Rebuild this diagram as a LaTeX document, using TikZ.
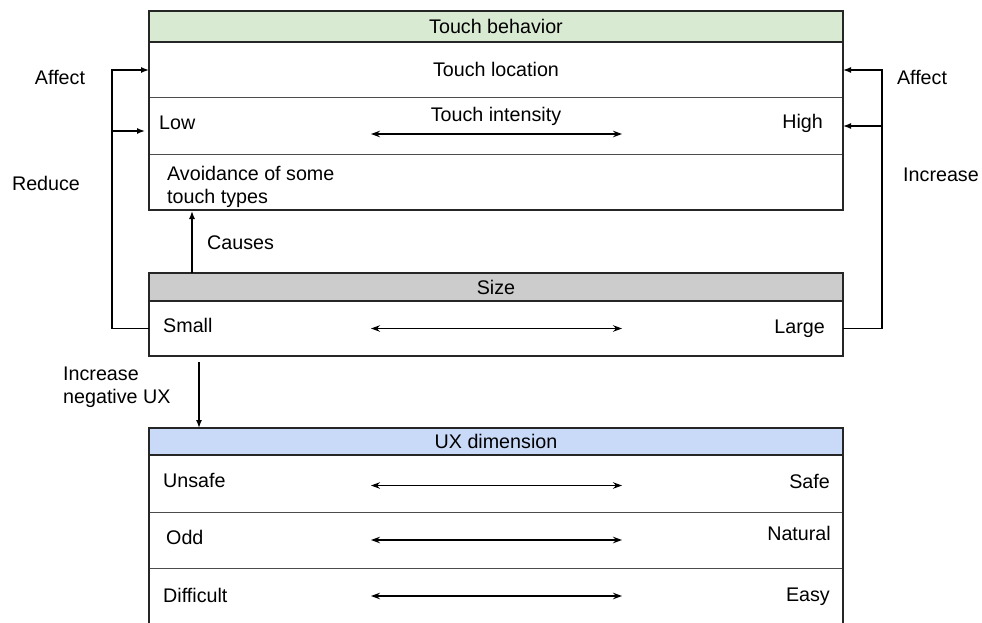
\documentclass[tikz,border=0pt]{standalone}
\usepackage{fontspec}
\setmainfont{Liberation Sans}
\usetikzlibrary{arrows.meta,calc}
\definecolor{hdrgreen}{HTML}{D9EAD3}
\definecolor{hdrgray}{HTML}{CCCCCC}
\definecolor{hdrblue}{HTML}{C9DAF8}
\tikzset{
  rowbox/.style={draw=black!70, line width=1pt, minimum width=694pt, inner sep=0pt, outer sep=0pt, anchor=north west},
  hdrbox/.style={rowbox, draw=black!85, line width=1.6pt},
  frame/.style={draw=black!85, line width=1.6pt},
  lbl/.style={inner sep=0pt, font=\fontsize{19.7}{23}\selectfont},
  conn/.style={draw=black, line width=1.4pt},
  tip/.style={-{Latex[length=8pt,width=6pt]}},
  dbl/.style={draw=black, line width=1.2pt, {Stealth[length=9pt,width=6.5pt]}-{Stealth[length=9pt,width=6.5pt]}}
}
\begin{document}
\begin{tikzpicture}[x=1pt,y=-1pt]
\useasboundingbox (0,0) rectangle (982,623);

% ---- Touch behavior block ----
\node[hdrbox, fill=hdrgreen, minimum height=31pt] (tbhdr) at (149,11) {};
\node[rowbox, minimum height=56pt] (loc) at (149,42) {};
\node[rowbox, minimum height=56pt] (int) at (149,98) {};
\node[rowbox, minimum height=56pt] (avoid) at (149,154) {};
\draw[frame] (tbhdr.north west) rectangle (avoid.south east);
\draw[frame] (tbhdr.south west) -- (tbhdr.south east);

\node[lbl] (tbtitle) at (496,26) {Touch behavior};
\node[lbl] (loctext) at (496,69) {Touch location};
\node[lbl] (inttext) at (496,116) {Touch intensity};
\node[lbl, anchor=west] (low) at (159,123) {Low};
\node[lbl, anchor=east] (high) at (823,123) {High};
\node[lbl, anchor=north west, align=left] (avtext) at (167,166) {Avoidance of some\\touch types};
\draw[dbl] ([xshift=-125pt,yshift=-8pt]int.center) -- ([xshift=126pt,yshift=-8pt]int.center);

% ---- Size block ----
\node[hdrbox, fill=hdrgray, minimum height=28pt] (sizehdr) at (149,273) {};
\node[rowbox, minimum height=55pt] (sizerow) at (149,301) {};
\draw[frame] (sizehdr.north west) rectangle (sizerow.south east);
\draw[frame] (sizehdr.south west) -- (sizehdr.south east);

\node[lbl] (sizetitle) at (496,287) {Size};
\node[lbl, anchor=west] (small) at (163,325) {Small};
\node[lbl, anchor=east] (large) at (825,329) {Large};
\draw[dbl] ([xshift=-125pt]sizerow.center) -- ([xshift=126pt]sizerow.center);

% ---- UX dimension block ----
\node[hdrbox, fill=hdrblue, minimum height=27pt] (uxhdr) at (149,428) {};
\node[rowbox, minimum height=57pt] (safe) at (149,455) {};
\node[rowbox, minimum height=56pt] (natural) at (149,512) {};
\node[rowbox, minimum height=56pt] (easy) at (149,568) {};
\draw[frame] (uxhdr.north west) rectangle (easy.south east);
\draw[frame] (uxhdr.south west) -- (uxhdr.south east);

\node[lbl] (uxtitle) at (496,441) {UX dimension};
\node[lbl, anchor=west] (unsafe) at (163,480) {Unsafe};
\node[lbl, anchor=east] (safet) at (830,481) {Safe};
\node[lbl, anchor=west] (odd) at (166,537) {Odd};
\node[lbl, anchor=east] (naturalt) at (831,533) {Natural};
\node[lbl, anchor=west] (difficult) at (163,595) {Difficult};
\node[lbl, anchor=east] (easyt) at (830,597) {Easy};
\draw[dbl] ([xshift=-125pt,yshift=-2pt]safe.center) -- ([xshift=126pt,yshift=-2pt]safe.center);
\draw[dbl] ([xshift=-125pt]natural.center) -- ([xshift=126pt]natural.center);
\draw[dbl] (easy.center -| 371,0) -- (easy.center -| 622,0);

% ---- Connectors: size to touch behavior (left side) ----
\draw[conn] (sizerow.west) -- ++(-37,0) coordinate (lturn);
\draw[conn, tip] (lturn) |- (loc.west);
\draw[conn, tip] (lturn |- 0,131) -- ([xshift=-4pt,yshift=-5pt]int.west);
\node[lbl] (affectl) at (60,77) {Affect};
\node[lbl] (reduce) at (46,183) {Reduce};

% ---- Connectors: size to touch behavior (right side) ----
\draw[conn] (sizerow.east) -- ++(39,0) coordinate (rturn);
\draw[conn, tip] (rturn) |- (loc.east);
\draw[conn, tip] (rturn |- int.east) -- (int.east);
\node[lbl] (affectr) at (922,77) {Affect};
\node[lbl] (increase) at (941,175) {Increase};

% ---- Causes ----
\draw[conn, tip] (sizehdr.north -| 192,0) -- ([yshift=-1pt]avoid.south -| 192,0);
\node[lbl, anchor=west] (causes) at (207,243) {Causes};

% ---- Increase negative UX ----
\coordinate (negstart) at ([yshift=-6pt]sizerow.south -| 199,0);
\draw[conn, tip] (negstart) -- (uxhdr.north -| 199,0);
\node[lbl, anchor=west, align=left] (negux) at (63,387) {Increase\\negative UX};
\end{tikzpicture}
\end{document}
